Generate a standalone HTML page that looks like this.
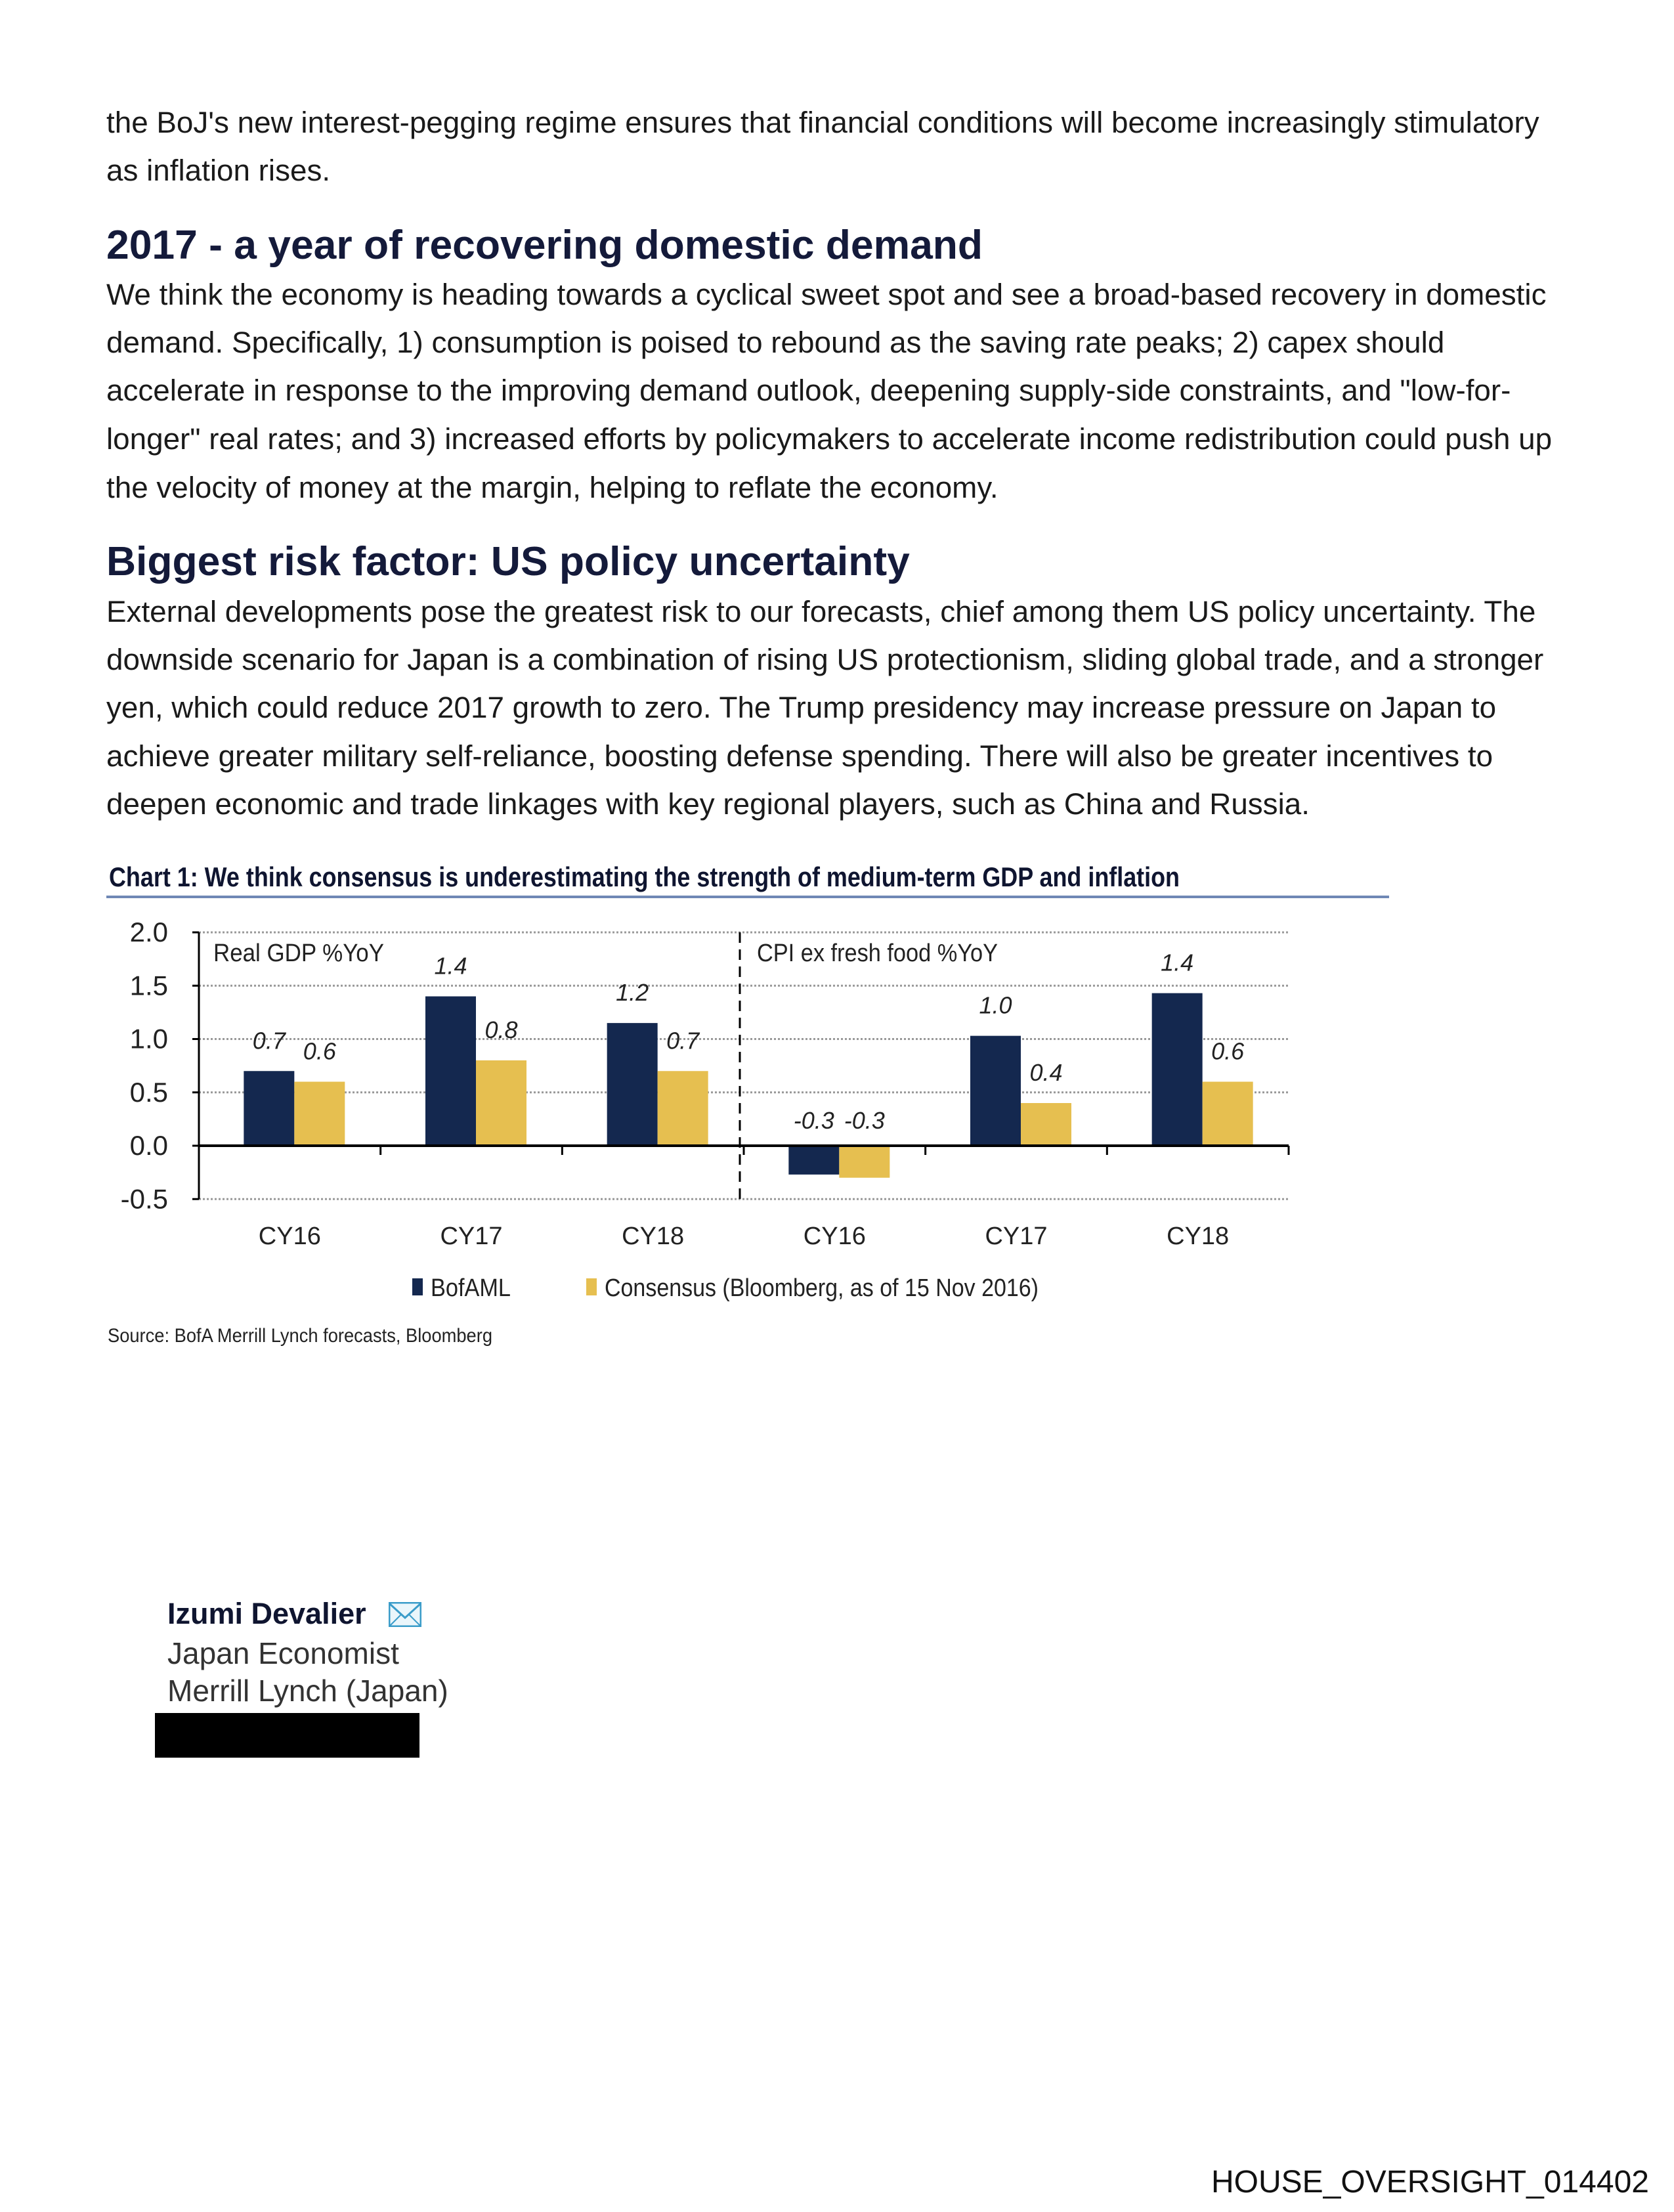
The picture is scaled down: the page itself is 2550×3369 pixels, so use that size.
<!DOCTYPE html>
<html><head><meta charset="utf-8">
<style>
html,body{margin:0;padding:0;background:#fff;}
body{width:2550px;height:3369px;position:relative;overflow:hidden;font-family:"Liberation Sans",sans-serif;color:#1a1a1a;}
.t{position:absolute;white-space:nowrap;}
.p{font-size:45.8px;left:162px;}
.h{font-size:62.4px;font-weight:bold;color:#141a3a;left:162px;}
</style></head><body>
<div class="t p" style="top:161px">the BoJ's new interest-pegging regime ensures that financial conditions will become increasingly stimulatory</div>
<div class="t p" style="top:234px">as inflation rises.</div>
<div class="t h" style="top:338px">2017 - a year of recovering domestic demand</div>
<div class="t p" style="top:423px">We think the economy is heading towards a cyclical sweet spot and see a broad-based recovery in domestic</div>
<div class="t p" style="top:496px">demand. Specifically, 1) consumption is poised to rebound as the saving rate peaks; 2) capex should</div>
<div class="t p" style="top:569px">accelerate in response to the improving demand outlook, deepening supply-side constraints, and "low-for-</div>
<div class="t p" style="top:643px">longer" real rates; and 3) increased efforts by policymakers to accelerate income redistribution could push up</div>
<div class="t p" style="top:717px">the velocity of money at the margin, helping to reflate the economy.</div>
<div class="t h" style="top:820px">Biggest risk factor: US policy uncertainty</div>
<div class="t p" style="top:906px">External developments pose the greatest risk to our forecasts, chief among them US policy uncertainty. The</div>
<div class="t p" style="top:979px">downside scenario for Japan is a combination of rising US protectionism, sliding global trade, and a stronger</div>
<div class="t p" style="top:1052px">yen, which could reduce 2017 growth to zero. The Trump presidency may increase pressure on Japan to</div>
<div class="t p" style="top:1126px">achieve greater military self-reliance, boosting defense spending. There will also be greater incentives to</div>
<div class="t p" style="top:1199px">deepen economic and trade linkages with key regional players, such as China and Russia.</div>

<svg id="chart" style="position:absolute;left:0;top:0" width="2550" height="2100" xmlns="http://www.w3.org/2000/svg" font-family="'Liberation Sans Narrow','Liberation Sans',sans-serif"></svg>

<div class="t" style="left:255px;top:2432px;font-size:45px;font-weight:bold;color:#0f1530">Izumi Devalier</div>
<svg style="position:absolute;left:592px;top:2440px" width="50" height="38"><rect x="1" y="1" width="48" height="36" fill="#eaf6fb" stroke="#3a9cc9" stroke-width="3"/><polyline points="2,3 25,24 48,3" fill="none" stroke="#3a9cc9" stroke-width="3"/><line x1="2" y1="36" x2="19" y2="19" stroke="#3a9cc9" stroke-width="2"/><line x1="48" y1="36" x2="31" y2="19" stroke="#3a9cc9" stroke-width="2"/></svg>
<div class="t" style="left:255px;top:2491px;font-size:46px;color:#333">Japan Economist</div>
<div class="t" style="left:255px;top:2548px;font-size:46px;color:#333">Merrill Lynch (Japan)</div>
<div style="position:absolute;left:236px;top:2609px;width:403px;height:68px;background:#000"></div>
<div class="t" style="left:1845px;top:3296px;font-size:48px;color:#111">HOUSE_OVERSIGHT_014402</div>

<script>
const categories = ["CY16","CY17","CY18","CY16","CY17","CY18"];
const bofamlValues = [0.7,1.4,1.15,-0.27,1.03,1.43];
const consensusValues = [0.6,0.8,0.7,-0.3,0.4,0.6];
const bofamlLabels = ["0.7","1.4","1.2","-0.3","1.0","1.4"];
const consensusLabels = ["0.6","0.8","0.7","-0.3","0.4","0.6"];
const yTicks = [2.0,1.5,1.0,0.5,0.0,-0.5];
const panelTitles = ["Real GDP %YoY","CPI ex fresh food %YoY"];
const legendLabels = ["BofAML","Consensus (Bloomberg, as of 15 Nov 2016)"];

const NS="http://www.w3.org/2000/svg";
const svg=document.getElementById('chart');
const X0=303,X1=1963,Y0=1745,PX=162.5;
const gw=(X1-X0)/categories.length;
const y=v=>Y0-v*PX;
const gx=i=>X0+i*gw;
function mk(tag,attrs,txt){const e=document.createElementNS(NS,tag);for(const k in attrs)e.setAttribute(k,attrs[k]);if(txt!==undefined)e.textContent=txt;svg.appendChild(e);return e;}

let e=mk('text',{x:166,y:1350,'font-size':42,'font-weight':'bold',fill:'#0f1530',textLength:1631,lengthAdjust:'spacingAndGlyphs'},'Chart 1: We think consensus is underestimating the strength of medium-term GDP and inflation');


e=mk('rect',{x:162,y:1364,width:1954,height:4,fill:'#6f88b5'});



yTicks.forEach(t=>{
  if(t!==0){e=mk('line',{x1:X0,x2:X1,y1:y(t),y2:y(t),stroke:'#999','stroke-width':3,'stroke-dasharray':'3,3'});
  
  }
  e=mk('line',{x1:X0-10,x2:X0,y1:y(t),y2:y(t),stroke:'#000','stroke-width':3});
  
  
  e=mk('text',{x:256,y:y(t)+14,'font-size':42,'text-anchor':'end',fill:'#222'},t.toFixed(1));
  
  
});
e=mk('line',{x1:X0,x2:X0,y1:y(2),y2:y(-0.5),stroke:'#000','stroke-width':3});



const bw=77;
categories.forEach((c,i)=>{
  const cx=gx(i)+gw/2+7;
  const v1=bofamlValues[i],v2=consensusValues[i];
  e=mk('rect',{x:cx-bw,y:Math.min(y(v1),Y0),width:bw,height:Math.abs(y(v1)-Y0),fill:'#14284f'});
  
  
  e=mk('rect',{x:cx,y:Math.min(y(v2),Y0),width:bw,height:Math.abs(y(v2)-Y0),fill:'#e6bf50'});
  
  
  const ly1=v1<0?Y0-26:y(v1)-34, ly2=v2<0?Y0-26:y(v2)-34;
  e=mk('text',{x:cx-bw/2,y:ly1,'font-size':36,'font-style':'italic','text-anchor':'middle',fill:'#222'},bofamlLabels[i]);
  
  
  e=mk('text',{x:cx+bw/2,y:ly2,'font-size':36,'font-style':'italic','text-anchor':'middle',fill:'#222'},consensusLabels[i]);
  
  
  e=mk('text',{x:gx(i)+gw/2,y:1895,'font-size':38,'text-anchor':'middle',fill:'#222'},c);
  
  
  e=mk('line',{x1:gx(i+1),x2:gx(i+1),y1:Y0,y2:Y0+14,stroke:'#000','stroke-width':3});
  
  
});
e=mk('line',{x1:X0,x2:X1,y1:Y0,y2:Y0,stroke:'#000','stroke-width':4});


const mid=gx(3)-6;
e=mk('line',{x1:mid,x2:mid,y1:y(2),y2:y(-0.5),stroke:'#000','stroke-width':3,'stroke-dasharray':'16,10'});


e=mk('text',{x:325,y:1464,'font-size':38,fill:'#222',textLength:260,lengthAdjust:'spacingAndGlyphs'},panelTitles[0]);


e=mk('text',{x:1153,y:1464,'font-size':38,fill:'#222',textLength:367,lengthAdjust:'spacingAndGlyphs'},panelTitles[1]);



e=mk('rect',{x:628,y:1947,width:16,height:26,fill:'#14284f'});


e=mk('text',{x:656,y:1974,'font-size':38,fill:'#222',textLength:122,lengthAdjust:'spacingAndGlyphs'},legendLabels[0]);


e=mk('rect',{x:893,y:1947,width:16,height:26,fill:'#e6bf50'});


e=mk('text',{x:921,y:1974,'font-size':38,fill:'#222',textLength:661,lengthAdjust:'spacingAndGlyphs'},legendLabels[1]);


e=mk('text',{x:164,y:2044,'font-size':30,fill:'#222',textLength:586,lengthAdjust:'spacingAndGlyphs'},'Source: BofA Merrill Lynch forecasts, Bloomberg');


</script>
</body></html>
